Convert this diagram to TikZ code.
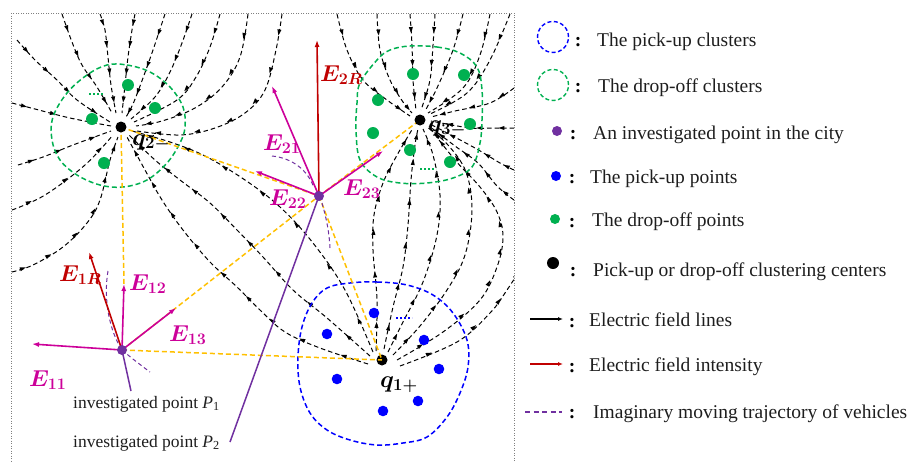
\RequirePackage{fix-cm}
\documentclass[tikz,border=0pt]{standalone}
\usepackage{amsmath}
\usepackage{fontspec}
\setmainfont{Liberation Serif}
\usetikzlibrary{arrows.meta,calc}
\definecolor{mag}{RGB}{204,0,153}
\definecolor{dred}{RGB}{192,0,0}
\definecolor{yel}{RGB}{255,192,0}
\definecolor{grn}{RGB}{0,176,80}
\definecolor{blu}{RGB}{0,0,255}
\definecolor{pur}{RGB}{112,48,160}
\definecolor{txt}{RGB}{30,30,30}
\tikzset{
  fieldline/.style={black, line width=1pt, dash pattern=on 4.5pt off 3pt},
  yline/.style={yel, line width=1.5pt, dash pattern=on 5pt off 3pt},
  cluster/.style={line width=1.5pt, dash pattern=on 5pt off 3pt},
  vec/.style={line width=1.6pt, -{Latex[length=7pt,width=5pt]}},
  trajdash/.style={pur, line width=1pt, dash pattern=on 4pt off 3pt},
  elabel/.style={inner sep=0pt, anchor=base west, font=\fontsize{23}{27}\selectfont\boldmath},
  qlabel/.style={inner sep=0pt, anchor=base west, text=black, font=\fontsize{24}{28}\selectfont\boldmath},
  legtext/.style={inner sep=0pt, anchor=base west, text=txt, font=\fontsize{19.5}{23}\selectfont},
  legcolon/.style={inner sep=0pt, anchor=base, text=black, font=\fontsize{19.5}{23}\selectfont\bfseries},
  ptext/.style={inner sep=0pt, anchor=base west, text=txt, font=\fontsize{17.5}{21}\selectfont},
  smoothplot/.style={smooth, tension=0.6}
}
\newcommand\fline[1]{%
  \gdef\flpts{}%
  \foreach \xx/\yy in {#1}{\xdef\flpts{\flpts(\xx,\yy)}}%
  \edef\flcmd{\noexpand\draw[fieldline] plot[smoothplot] coordinates {\flpts};}%
  \flcmd
  \foreach \xx/\yy [count=\k, remember=\xx as \px, remember=\yy as \py] in {#1}{%
    \ifnum\k>1
      \coordinate (flA) at (\px,\py);
      \coordinate (flB) at (\xx,\yy);
      \coordinate (flM) at ($(flA)!0.5!(flB)$);
      \fill[black] ($(flM)!3.5pt!(flB)$) -- ($(flM)!3.2pt!140:(flB)$) -- ($(flM)!3.2pt!-140:(flB)$) -- cycle;
    \fi}%
}
\begin{document}
\begin{tikzpicture}[x=1pt, y=-1pt]
\useasboundingbox (0,0) rectangle (911,461);
% frame
\draw[gray, line width=0.6pt, dash pattern=on 1pt off 1.5pt] (11,13) rectangle (514,463);

% named points
\coordinate (q2) at (121,127);
\coordinate (q3) at (420,120);
\coordinate (q1) at (382,360);
\coordinate (P2) at (319,196);
\coordinate (P1) at (122,350);
\coordinate (t2R) at (317,40);
\coordinate (t21) at (272,86);
\coordinate (t22) at (255,171);
\coordinate (t23) at (383,151);
\coordinate (t1R) at (89,252);
\coordinate (t12) at (124,284);
\coordinate (t13) at (176,308);
\coordinate (t11) at (32,344);
\coordinate (tr1) at (131,391);
\coordinate (tr2) at (230,442);

% field lines
\begin{scope}
\clip (11,13) rectangle (514,463);
% into q2 from top
\fline{62/14, 72/42, 82/65, 97/87, 112/113}
\fline{100/14, 105/30, 108/57, 111/85, 116/113}
\fline{135/14, 132/30, 128/57, 125/85, 122/113}
\fline{165/14, 153/50, 143/78, 133/104, 126/117}
\fline{192/14, 182/43, 170/72, 155/97, 131/119}
\fline{220/14, 210/47, 196/77, 177/100, 134/122}
\fline{248/14, 240/57, 222/87, 195/108, 162/121, 136/126}
\fline{282/14, 276/50, 265/90, 245/113, 215/128, 180/135, 137/131}
% into q2 from left
\fline{17/40, 35/60, 57/80, 77/100, 110/122}
\fline{12/103, 35/109, 70/118, 111/126}
\fline{18/165, 43/157, 73/145, 111/131}
\fline{12/210, 45/195, 85/165, 113/135}
\fline{12/272, 33/265, 63/247, 87/223, 100/200, 110/160, 118/137}
% from q1 to q2
\fline{368/364, 320/348, 285/332, 260/310, 237/287, 210/262, 183/230, 162/200, 145/170, 127/137}
\fline{370/356, 327/318, 293/290, 263/257, 237/230, 210/203, 180/180, 155/160, 129/135}
\fline{373/352, 345/290, 313/243, 280/207, 245/180, 205/156, 170/142, 132/131}
% from q1 to q3
\fline{376/351, 377/300, 373/250, 374/215, 383/183, 396/157, 413/128}
\fline{384/349, 393/307, 403/267, 408/225, 411/180, 415/145, 418/129}
\fline{388/352, 403/322, 423/282, 437/235, 440/195, 433/155, 423/129}
\fline{393/355, 420/326, 447/290, 465/255, 472/210, 466/172, 448/145, 427/127}
\fline{397/360, 443/332, 480/300, 497/267, 503/237, 497/212, 480/187, 455/160, 429/127}
\fline{400/366, 457/342, 490/313, 507/290, 525/262}
% into q3 from right
\fline{514/200, 497/186, 478/163, 455/146, 429/126}
\fline{514/170, 500/163, 475/148, 430/124}
\fline{514/128, 490/128, 470/128, 431/121}
\fline{514/88, 490/103, 455/111, 431/117}
% into q3 from top
\fline{510/14, 490/60, 467/93, 430/114}
\fline{490/14, 480/55, 463/88, 428/113}
\fline{463/14, 453/50, 437/88, 425/111}
\fline{435/14, 433/45, 430/80, 421/110}
\fline{410/14, 412/45, 413/80, 416/110}
\fline{377/14, 380/50, 390/80, 403/102, 412/113}
\fline{337/14, 347/50, 363/80, 387/100, 410/116}
\end{scope}

% clusters
\draw[grn, cluster] plot[smooth cycle, tension=0.6] coordinates {(107,65) (127,65) (150,72) (170,87) (183,107) (185,127) (180,143) (167,163) (147,180) (123,187) (100,185) (77,175) (60,160) (52,140) (53,117) (67,93) (87,75)};
\draw[grn, cluster] plot[smooth cycle, tension=0.6] coordinates {(410,46) (437,47) (460,53) (477,67) (482,90) (482,120) (480,143) (472,167) (453,178) (427,183) (400,183) (377,177) (360,160) (356,130) (357,103) (360,83) (377,60) (390,50)};
\draw[blu, cluster] plot[smooth cycle, tension=0.6] coordinates {(350,283) (377,282) (407,285) (433,295) (453,313) (467,340) (468,367) (460,393) (447,417) (427,437) (403,443) (377,445) (350,440) (327,430) (310,413) (300,387) (298,357) (302,327) (312,303) (327,288)};

% ellipsis marks
\draw[grn, line width=2.2pt, dash pattern=on 2pt off 2pt] (89,94) -- (103,94);
\draw[grn, line width=2.2pt, dash pattern=on 2pt off 2pt] (420,169) -- (436,169);
\draw[blu, line width=2.2pt, dash pattern=on 2pt off 2pt] (396,318) -- (412,318);

% cluster points
\foreach \p in {(128,85),(155,108),(92,119),(104,163),(413,74),(464,75),(378,100),(470,124),(373,133),(410,150),(450,162)}
  \fill[grn] \p circle[radius=6pt];
\foreach \p in {(374,313),(327,334),(424,340),(439,369),(337,379),(418,401),(383,411)}
  \fill[blu] \p circle[radius=5.3pt];

\fill[black] (q1) circle[radius=5.5pt];

% yellow connection lines
\draw[yline] (q2) -- (P2);
\draw[yline] (q2) -- (t12);
\draw[yline] (P1) -- (q1);
\draw[yline] (P1) -- (P2);
\draw[yline] (P2) -- (q3);
\draw[yline] (P2) -- (q1);

% trajectories
\draw[pur, line width=1.5pt] (P1) -- (tr1);
\draw[pur, line width=1.5pt] (P2) -- (tr2);
\draw[trajdash] (272,156) .. controls (292,158) and (308,170) .. (314,188);
\draw[trajdash] (322,203) .. controls (326,217) and (329,230) .. (330,248);
\draw[trajdash] (108,271) .. controls (103,300) and (110,332) .. (P1);
\draw[trajdash] (P1) .. controls (134,360) .. (150,372);

% vectors
\draw[vec, dred] (P2) -- (t2R);
\draw[vec, mag] (P2) -- (t21);
\draw[vec, mag] (P2) -- (t22);
\draw[vec, mag] (P2) -- (t23);
\draw[vec, dred] (P1) -- (t1R);
\draw[vec, mag] (P1) -- (t12);
\draw[vec, mag] (P1) -- (t13);
\draw[vec, mag] (P1) -- (t11);

% dots
\fill[black] (q2) circle[radius=5.5pt];
\fill[black] (q3) circle[radius=5.5pt];
\fill[pur] (P2) circle[radius=5pt];
\fill[pur] (P1) circle[radius=5pt];

% labels
\node[elabel, text=dred] (l2R) at (320,81) {$E_{\mathbf{2}R}$};
\node[elabel, text=mag] (l21) at (263,150) {$E_{\mathbf{21}}$};
\node[elabel, text=mag] (l22) at (269,205) {$E_{\mathbf{22}}$};
\node[elabel, text=mag] (l23) at (343,195) {$E_{\mathbf{23}}$};
\node[elabel, text=dred] (l1R) at (59,281) {$E_{\mathbf{1}R}$};
\node[elabel, text=mag] (l12) at (129,290) {$E_{\mathbf{12}}$};
\node[elabel, text=mag] (l13) at (169,341) {$E_{\mathbf{13}}$};
\node[elabel, text=mag] (l11) at (29,386) {$E_{\mathbf{11}}$};
\node[qlabel] (lq2) at (132,145) {$q_{\mathbf{2}-}$};
\node[qlabel] (lq3) at (428,131) {$q_{\mathbf{3}-}$};
\node[qlabel] (lq1) at (380,387) {$q_{\mathbf{1}+}$};
\node[ptext] (lp1) at (73,408) {investigated point \textit{P}\textsubscript{1}};
\node[ptext] (lp2) at (73,447) {investigated point \textit{P}\textsubscript{2}};

% legend
\draw[blu, line width=1.4pt, dash pattern=on 4pt off 2.5pt] (553,37) circle[radius=15.5pt];
\draw[grn, line width=1.4pt, dash pattern=on 4pt off 2.5pt] (553,85) circle[radius=15.5pt];
\fill[pur] (557,131) circle[radius=5pt];
\fill[blu] (556,176) circle[radius=5pt];
\fill[grn] (555,219) circle[radius=5pt];
\fill[black] (553,263) circle[radius=6pt];
\coordinate (la1) at (530,319); \coordinate (la2) at (563,319);
\coordinate (lb1) at (530,364); \coordinate (lb2) at (563,364);
\coordinate (lc1) at (525,412); \coordinate (lc2) at (562,412);
\draw[black, line width=1.2pt, -{Latex[length=5pt,width=4pt]}] (la1) -- (la2);
\draw[dred, line width=1.4pt, -{Latex[length=5pt,width=4pt]}] (lb1) -- (lb2);
\draw[pur, line width=1.4pt, dash pattern=on 5pt off 3.5pt] (lc1) -- (lc2);

\node[legcolon] (c1) at (578,46) {:};
\node[legcolon] (c2) at (578,92) {:};
\node[legcolon] (c3) at (573,139) {:};
\node[legcolon] (c4) at (572,183) {:};
\node[legcolon] (c5) at (572,227) {:};
\node[legcolon] (c6) at (573,276) {:};
\node[legcolon] (c7) at (572,327) {:};
\node[legcolon] (c8) at (572,372) {:};
\node[legcolon] (c9) at (572,418) {:};

\node[legtext] (g1) at (597,46.7) {The pick-up clusters};
\node[legtext] (g2) at (598,92.7) {The drop-off clusters};
\node[legtext] (g3) at (593,139.3) {An investigated point in the city};
\node[legtext] (g4) at (590,183.3) {The pick-up points};
\node[legtext] (g5) at (592,226.7) {The drop-off points};
\node[legtext] (g6) at (593,276) {Pick-up or drop-off clustering centers};
\node[legtext] (g7) at (589,326.7) {Electric field lines};
\node[legtext] (g8) at (589,371.7) {Electric field intensity};
\node[legtext] (g9) at (593,418.3) {Imaginary moving trajectory of vehicles};
\end{tikzpicture}
\end{document}
